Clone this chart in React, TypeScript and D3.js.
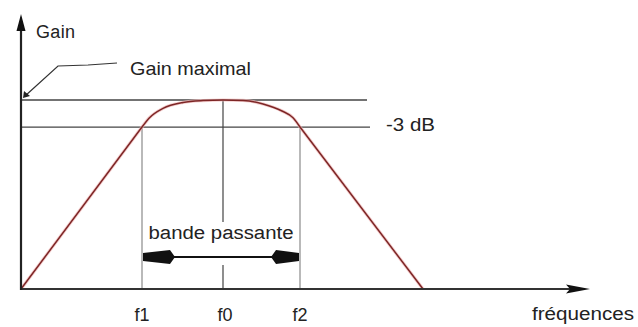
import React from "react";
import * as d3 from "d3";

const W = 638;
const H = 327;

// Band-pass response, frequency and gain in arbitrary units (100 = maximum gain)
const markLabels = ["f1", "f0", "f2"];
const markFreqs = [24.2, 40.4, 55.8];
const riseFreq = [0, 24.2];
const riseGain = [0, 85.7];
const arcFreq = [24.2, 25.6, 28.4, 32.4, 36.4, 40.4, 44.4, 48.4, 52.2, 54.4, 55.8];
const arcGain = [85.7, 90.4, 95.6, 98.7, 99.7, 100, 99.8, 97.9, 94.2, 90.6, 85.7];
const fallFreq = [55.8, 80.4];
const fallGain = [85.7, 0];
const levelGains = [100, 85.7];
const levelEnds = [69.2, 69.8];
const levelLabels = ["Gain maximal", "-3 dB"];
const axisLabels = ["Gain", "fréquences"];
const bandLabel = "bande passante";
const axisEnds = [113.8, 145.5];

const FONT = "'Liberation Sans', Arial, sans-serif";
const INK = "#222";

export default function App() {
  const x = d3.scaleLinear().domain([0, 114]).range([21, 591]);
  const y = d3.scaleLinear().domain([0, 100]).range([289, 100]);

  const pts = (fs: number[], gs: number[]) => fs.map((f, i) => [f, gs[i]] as [number, number]);
  const straight = d3
    .line<[number, number]>()
    .x((d) => x(d[0]))
    .y((d) => y(d[1]));
  const smooth = d3
    .line<[number, number]>()
    .x((d) => x(d[0]))
    .y((d) => y(d[1]))
    .curve(d3.curveMonotoneX);

  const curvePath =
    straight(pts(riseFreq, riseGain)) +
    smooth(pts(arcFreq, arcGain)) +
    straight(pts(fallFreq, fallGain));

  const x0 = x(0);
  const yBase = y(0);
  const xEnd = x(axisEnds[0]);
  const yTop = y(axisEnds[1]);

  const [f1, f0, f2] = markFreqs.map((f) => x(f));
  const bandTextY = yBase - 50;
  const bandArrowY = yBase - 32;

  return (
    <svg
      width={W}
      height={H}
      style={{ position: "absolute", left: 0, top: 0, background: "#fff" }}
      fontFamily={FONT}
    >
      <rect width={W} height={H} fill="#fff" />

      {/* reference levels */}
      {levelGains.map((g, i) => (
        <line
          key={"lvl" + i}
          x1={x0}
          x2={x(levelEnds[i])}
          y1={y(g)}
          y2={y(g)}
          stroke="#444"
          strokeWidth={1.3}
        />
      ))}

      {/* cut-off and centre frequencies */}
      {[f1, f2].map((fx, i) => (
        <line key={"fc" + i} x1={fx} x2={fx} y1={y(levelGains[1])} y2={yBase} stroke="#8a8a8a" strokeWidth={1.2} />
      ))}
      <line x1={f0} x2={f0} y1={y(levelGains[0])} y2={bandTextY - 17} stroke="#444" strokeWidth={1.2} />
      <line x1={f0} x2={f0} y1={bandArrowY + 8} y2={yBase} stroke="#444" strokeWidth={1.2} />

      {/* response curve */}
      <path d={curvePath} fill="none" stroke="#f0b8b8" strokeWidth={3.2} strokeLinejoin="round" opacity={0.7} />
      <path d={curvePath} fill="none" stroke="#7d2626" strokeWidth={1.5} strokeLinejoin="round" />

      {/* axes */}
      <line x1={x0 - 1} x2={xEnd - 20} y1={yBase} y2={yBase} stroke="#333" strokeWidth={2.2} />
      <path
        d={`M${xEnd},${yBase} L${xEnd - 24},${yBase - 4.5} L${xEnd - 20},${yBase} L${xEnd - 24},${yBase + 4.5} Z`}
        fill="#111"
      />
      <line x1={x0} x2={x0} y1={yBase + 1} y2={yTop + 14} stroke="#222" strokeWidth={2.2} />
      <path d={`M${x0},${yTop} L${x0 - 4.5},${yTop + 17} L${x0 + 4.5},${yTop + 17} Z`} fill="#111" />

      {/* axis titles */}
      <text x={x0 + 15} y={38} fontSize={18} fill={INK} textLength={39}>
        {axisLabels[0]}
      </text>
      <text x={532} y={320} fontSize={18} fill={INK} textLength={102} lengthAdjust="spacingAndGlyphs">
        {axisLabels[1]}
      </text>

      {/* frequency marks */}
      {markLabels.map((lab, i) => (
        <text
          key={lab}
          x={x(markFreqs[i]) + (i === 1 ? 2 : 0)}
          y={321}
          fontSize={18}
          fill={INK}
          textAnchor="middle"
        >
          {lab}
        </text>
      ))}

      {/* level labels */}
      <polyline
        points={`${x0 + 4},${y(levelGains[0]) - 4} 58,66 88,65 117,63`}
        fill="none"
        stroke="#333"
        strokeWidth={1.2}
      />
      <path
        d={`M${x0 + 2},${y(levelGains[0]) - 2} L${x0 + 3},${y(levelGains[0]) - 9} L${x0 + 9},${y(levelGains[0]) - 4} Z`}
        fill="#222"
      />
      <text x={130} y={75} fontSize={19} fill={INK} textLength={121} lengthAdjust="spacingAndGlyphs">
        {levelLabels[0]}
      </text>
      <text x={386} y={131} fontSize={18} fill={INK} textLength={49} lengthAdjust="spacingAndGlyphs">
        {levelLabels[1]}
      </text>

      {/* pass band */}
      <text
        x={(f1 + f2) / 2}
        y={bandTextY}
        fontSize={18}
        fill={INK}
        textAnchor="middle"
        textLength={145}
        lengthAdjust="spacingAndGlyphs"
      >
        {bandLabel}
      </text>
      <line x1={f1 + 20} x2={f2 - 20} y1={bandArrowY} y2={bandArrowY} stroke="#111" strokeWidth={2.2} />
      <path
        d={`M${f1 + 1},${bandArrowY - 4} L${f1 + 28},${bandArrowY - 7} L${f1 + 33},${bandArrowY} L${f1 + 28},${bandArrowY + 7} L${f1 + 1},${bandArrowY + 4} Z`}
        fill="#111"
      />
      <path
        d={`M${f2 - 1},${bandArrowY - 4} L${f2 - 24},${bandArrowY - 7} L${f2 - 29},${bandArrowY} L${f2 - 24},${bandArrowY + 7} L${f2 - 1},${bandArrowY + 4} Z`}
        fill="#111"
      />
    </svg>
  );
}
